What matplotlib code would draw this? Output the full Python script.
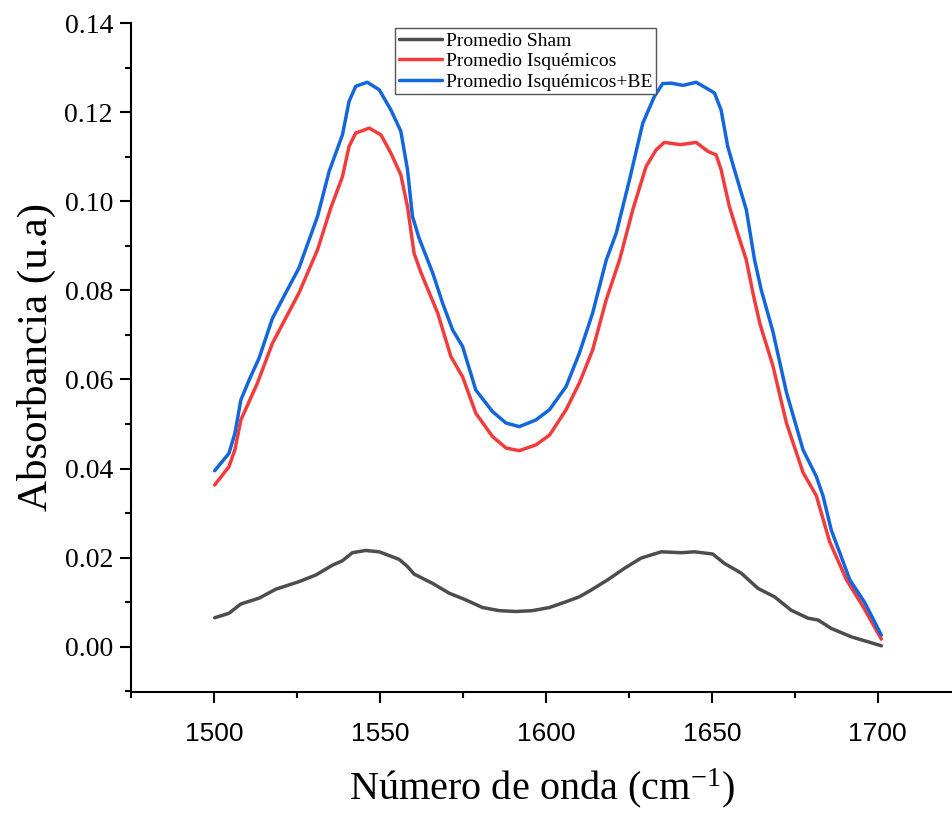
import matplotlib
matplotlib.use("Agg")
import matplotlib.pyplot as plt
from matplotlib.ticker import MultipleLocator

# digitised averages (wavenumber cm-1, absorbance)
sham_x = [1500.2, 1504.5, 1508.1, 1513.6, 1518.6, 1525.6, 1530.7, 1535.7, 1538.7, 1541.7,
          1545.7, 1549.8, 1555.8, 1558.3, 1560.3, 1565.9, 1570.9, 1575.9, 1580.9, 1585.9,
          1591.0, 1596.0, 1601.1, 1606.1, 1610.1, 1613.6, 1618.6, 1623.7, 1628.7, 1634.8,
          1640.8, 1644.8, 1650.3, 1653.8, 1658.9, 1663.9, 1668.9, 1673.9, 1679.0, 1682.0,
          1686.0, 1692.1, 1697.1, 1701.1]
sham_y = [0.0065, 0.0075, 0.0096, 0.0109, 0.0129, 0.0146, 0.0161, 0.0183, 0.0193, 0.0211,
          0.0216, 0.0213, 0.0196, 0.0180, 0.0163, 0.0142, 0.0120, 0.0105, 0.0088, 0.0081,
          0.0079, 0.0081, 0.0088, 0.0101, 0.0112, 0.0127, 0.0150, 0.0176, 0.0199, 0.0213,
          0.0211, 0.0213, 0.0208, 0.0187, 0.0165, 0.0131, 0.0112, 0.0082, 0.0064, 0.0060,
          0.0041, 0.0022, 0.0011, 0.0002]

isq_x = [1500.2, 1504.5, 1506.3, 1508.1, 1513.1, 1517.6, 1525.6, 1531.2, 1535.2, 1538.7,
         1540.7, 1542.7, 1546.8, 1550.3, 1553.3, 1556.3, 1558.3, 1560.3, 1562.4, 1567.4,
         1571.4, 1574.9, 1578.9, 1583.9, 1588.0, 1592.0, 1597.0, 1601.1, 1606.1, 1610.1,
         1614.1, 1618.2, 1622.2, 1626.2, 1630.2, 1633.2, 1635.7, 1640.6, 1645.3, 1648.8,
         1651.3, 1652.8, 1655.3, 1657.8, 1660.4, 1662.4, 1664.5, 1668.4, 1672.5, 1677.5,
         1681.5, 1685.5, 1690.6, 1695.6, 1701.1]
isq_y = [0.0363, 0.0404, 0.0442, 0.0509, 0.0592, 0.0681, 0.0794, 0.0891, 0.0985, 0.1055,
         0.1123, 0.1153, 0.1164, 0.1149, 0.1108, 0.1059, 0.0988, 0.0883, 0.0839, 0.0749,
         0.0651, 0.0606, 0.0524, 0.0472, 0.0446, 0.0440, 0.0453, 0.0475, 0.0532, 0.0592,
         0.0666, 0.0779, 0.0868, 0.0981, 0.1078, 0.1115, 0.1132, 0.1127, 0.1132, 0.1112,
         0.1104, 0.1071, 0.0988, 0.0928, 0.0868, 0.0794, 0.0725, 0.0631, 0.0502, 0.0391,
         0.0339, 0.0236, 0.0150, 0.0090, 0.0017]

be_x = [1500.2, 1504.5, 1506.3, 1508.1, 1510.6, 1513.6, 1517.6, 1521.6, 1525.6, 1531.2,
        1534.7, 1538.7, 1540.7, 1542.7, 1546.2, 1549.8, 1553.3, 1556.3, 1558.3, 1559.8,
        1561.8, 1565.9, 1568.9, 1571.9, 1574.9, 1578.9, 1583.9, 1588.0, 1592.0, 1597.0,
        1601.1, 1606.1, 1610.1, 1614.1, 1618.2, 1621.2, 1625.2, 1629.2, 1632.7, 1635.2,
        1637.8, 1641.3, 1645.3, 1648.3, 1650.8, 1652.8, 1654.8, 1656.8, 1660.4, 1662.9,
        1664.9, 1668.4, 1672.5, 1677.5, 1681.5, 1683.5, 1686.0, 1691.6, 1696.1, 1701.1]
be_y = [0.0395, 0.0434, 0.0479, 0.0554, 0.0599, 0.0648, 0.0737, 0.0794, 0.0850, 0.0966,
        0.1067, 0.1149, 0.1224, 0.1258, 0.1267, 0.1250, 0.1205, 0.1157, 0.1071, 0.0966,
        0.0917, 0.0839, 0.0771, 0.0711, 0.0674, 0.0576, 0.0528, 0.0502, 0.0494, 0.0509,
        0.0532, 0.0584, 0.0659, 0.0749, 0.0868, 0.0928, 0.1048, 0.1175, 0.1235, 0.1264,
        0.1265, 0.1260, 0.1267, 0.1254, 0.1243, 0.1205, 0.1123, 0.1071, 0.0981, 0.0868,
        0.0801, 0.0708, 0.0571, 0.0442, 0.0382, 0.0339, 0.0262, 0.0150, 0.0099, 0.0026]

labels = ["Promedio Sham", "Promedio Isquémicos", "Promedio Isquémicos+BE"]
colors = ["#4D4D4D", "#F23B3B", "#1466DC"]

plt.rcParams["mathtext.fontset"] = "custom"
plt.rcParams["mathtext.rm"] = "Liberation Serif"
plt.rcParams["mathtext.it"] = "Liberation Serif:italic"
SERIF = "Liberation Serif"; SANS = "Liberation Sans"

fig = plt.figure(figsize=(9.53, 8.13), dpi=100)
ax = fig.add_axes([0.1375, 0.1492, 0.8615, 0.8225])

for (xs, ys), lab, c in zip([(sham_x, sham_y), (isq_x, isq_y), (be_x, be_y)], labels, colors):
    ax.plot(xs, ys, color=c, lw=2.5, label=lab, solid_joinstyle="round", solid_capstyle="round")

ax.set_xlim(1475, 1722.4)
ax.xaxis.set_major_locator(MultipleLocator(50))
ax.xaxis.set_minor_locator(MultipleLocator(25))
ax.yaxis.set_major_locator(MultipleLocator(0.02))
ax.yaxis.set_minor_locator(MultipleLocator(0.01))

for s in ["top", "right"]:
    ax.spines[s].set_visible(False)
for s in ["left", "bottom"]:
    ax.spines[s].set_linewidth(1.5)

ax.tick_params(which="major", direction="out", length=8, width=1.5)
ax.tick_params(which="minor", direction="out", length=4.5, width=1.5)
ax.tick_params(axis="x", which="major", pad=14)
ax.tick_params(axis="y", which="major", pad=5)
yt = [0.0, 0.02, 0.04, 0.06, 0.08, 0.10, 0.12, 0.14]
ax.set_yticks(yt)
ax.set_yticklabels([f"{v:.2f}" for v in yt], family=SERIF, fontsize=20)
for t in ax.get_xticklabels():
    t.set_fontfamily(SANS); t.set_fontsize(19)
ax.set_ylim(-0.0101, 0.14)

ax.set_ylabel("Absorbancia (u.a)", family=SERIF, fontsize=31)
ax.set_xlabel("Número de onda (cm$^{-1}$)", family=SERIF, fontsize=29)
ax.yaxis.set_label_coords(-0.092, 0.5)
ax.xaxis.set_label_coords(0.5, -0.112)

leg = ax.legend(loc="upper left", bbox_to_anchor=(395 / 953, 1 - 28 / 813),
                bbox_transform=fig.transFigure, prop={"family": SERIF, "size": 14},
                fancybox=False, framealpha=1, edgecolor="#555555", borderpad=0.2,
                labelspacing=0.15, handlelength=2.2, handletextpad=0.2, borderaxespad=0)
leg.get_frame().set_linewidth(1.0)

fig.savefig("out.png", dpi=100)
